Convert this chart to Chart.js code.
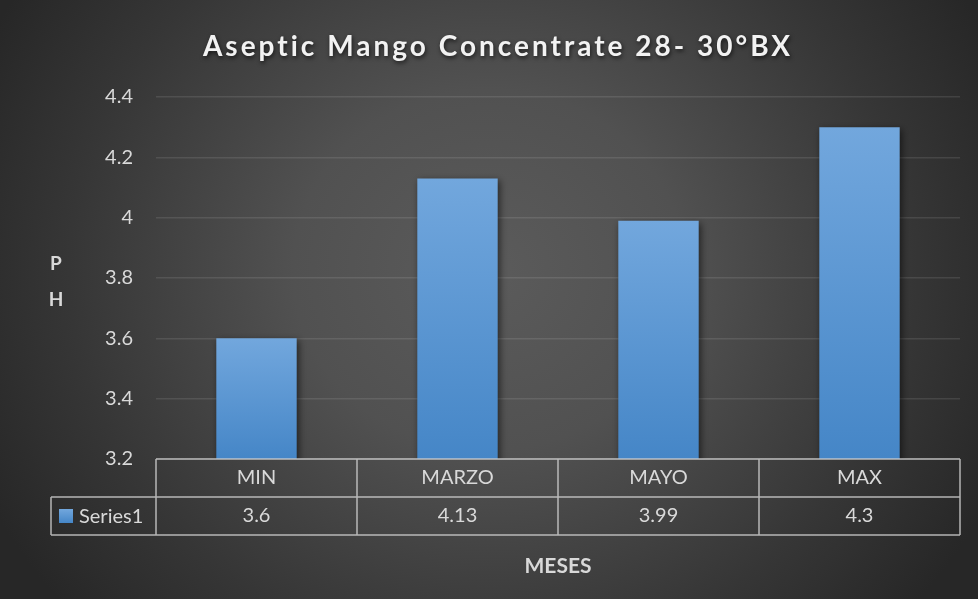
<!DOCTYPE html>
<html>
<head>
<meta charset="utf-8">
<title>Aseptic Mango Concentrate 28- 30°BX</title>
<script src="https://cdn.jsdelivr.net/npm/chart.js@4.4.1/dist/chart.umd.min.js"></script>
<style>
  html, body { margin: 0; padding: 0; background: #272727; }
  canvas { display: block; }
</style>
</head>
<body>
<canvas id="chart" width="978" height="599"></canvas>
<script>
// ---- data ----
const categories = ['MIN', 'MARZO', 'MAYO', 'MAX'];
const phValues = [3.6, 4.13, 3.99, 4.3];
const yTicks = [3.2, 3.4, 3.6, 3.8, 4.0, 4.2, 4.4];
const seriesName = 'Series1';
const chartTitle = 'Aseptic Mango Concentrate 28- 30°BX';
const yTitleLetters = ['P', 'H'];
const xTitle = 'MESES';

// ---- styling ----
const FONT = 'Lato, "Open Sans", sans-serif';
const TEXT = '#d9d9d9';
const TABLE_LINE = 'rgba(205,205,205,0.85)';
const ROW_H = 38;
const LEGEND_LEFT = 51;

// dark radial backdrop, lighter toward the middle
const backdrop = {
  id: 'backdrop',
  beforeDraw(chart) {
    const { ctx, width, height } = chart;
    const cx = 489, cy = 270, sy = 0.92;
    ctx.save();
    ctx.translate(cx, cy);
    ctx.scale(1, sy);
    const g = ctx.createRadialGradient(0, 0, 0, 0, 0, 560);
    g.addColorStop(0, '#5b5b5b');
    g.addColorStop(0.35, '#515151');
    g.addColorStop(0.75, '#363636');
    g.addColorStop(1, '#272727');
    ctx.fillStyle = g;
    ctx.fillRect(-cx, -cy / sy, width, height / sy);
    ctx.restore();
  }
};

// letter-spaced title with a soft drop shadow
const titleStyle = {
  id: 'titleStyle',
  beforeDraw(chart) {
    const tb = chart.titleBlock;
    if (!tb || tb._styled) return;
    const orig = tb.draw.bind(tb);
    tb.draw = function () {
      const c = chart.ctx;
      c.save();
      c.letterSpacing = '3px';
      c.shadowColor = 'rgba(0,0,0,0.65)';
      c.shadowBlur = 4;
      c.shadowOffsetX = 1;
      c.shadowOffsetY = 2;
      c.translate(18, 0);
      orig();
      c.restore();
    };
    tb._styled = true;
  }
};

// shadow behind the columns
const barShadow = {
  id: 'barShadow',
  beforeDatasetsDraw(chart) {
    const c = chart.ctx;
    c.save();
    c.shadowColor = 'rgba(0,0,0,0.55)';
    c.shadowBlur = 7;
    c.shadowOffsetX = 2;
    c.shadowOffsetY = 2;
  },
  afterDatasetsDraw(chart) {
    chart.ctx.restore();
  }
};

// data table frame, legend key and the stacked axis title
const dataTable = {
  id: 'dataTable',
  afterDraw(chart) {
    const { ctx, chartArea } = chart;
    const x = chart.scales.x;
    const top = chartArea.bottom;
    const half = (x.getPixelForValue(1) - x.getPixelForValue(0)) / 2;
    const edges = categories.map((_, i) => x.getPixelForValue(i) - half);
    edges.push(x.getPixelForValue(categories.length - 1) + half);
    const right = edges[edges.length - 1];
    const mid = top + ROW_H;
    const bottom = top + ROW_H * 2;

    ctx.save();
    ctx.strokeStyle = TABLE_LINE;
    ctx.lineWidth = 1.5;
    ctx.beginPath();
    ctx.moveTo(edges[0], top); ctx.lineTo(right, top);
    ctx.moveTo(LEGEND_LEFT, mid); ctx.lineTo(right, mid);
    ctx.moveTo(LEGEND_LEFT, bottom); ctx.lineTo(right, bottom);
    edges.forEach(e => { ctx.moveTo(e, top); ctx.lineTo(e, bottom); });
    ctx.moveTo(LEGEND_LEFT, mid); ctx.lineTo(LEGEND_LEFT, bottom);
    ctx.stroke();

    // legend key
    const rowMid = mid + ROW_H / 2;
    const g = ctx.createLinearGradient(0, rowMid - 7, 0, rowMid + 7);
    g.addColorStop(0, '#72a7dd');
    g.addColorStop(1, '#4586c7');
    ctx.fillStyle = g;
    ctx.fillRect(LEGEND_LEFT + 8, rowMid - 7, 14, 14);
    ctx.fillStyle = TEXT;
    ctx.font = '20px ' + FONT;
    ctx.textAlign = 'left';
    ctx.textBaseline = 'middle';
    ctx.fillText(seriesName, LEGEND_LEFT + 28, rowMid + 1);

    // vertical axis title, one upright letter per line
    const yMid = (chartArea.top + chartArea.bottom) / 2 + 4;
    ctx.font = 'bold 19px ' + FONT;
    ctx.textAlign = 'center';
    yTitleLetters.forEach((ch, i) => {
      ctx.fillText(ch, 56, yMid + (i - (yTitleLetters.length - 1) / 2) * 36);
    });
    ctx.restore();
  }
};

function barGradient(context) {
  const chart = context.chart;
  const y = chart.scales.y;
  if (!chart.chartArea || !y || context.type !== 'data') return '#5b9bd5';
  const top = y.getPixelForValue(context.raw);
  const base = y.getPixelForValue(y.min);
  const g = chart.ctx.createLinearGradient(0, top, 0, base);
  g.addColorStop(0, '#72a7dd');
  g.addColorStop(1, '#4586c7');
  return g;
}

new Chart(document.getElementById('chart'), {
  type: 'bar',
  data: {
    labels: categories,
    datasets: [{
      label: seriesName,
      data: phValues,
      backgroundColor: barGradient,
      borderWidth: 0,
      barPercentage: 0.4,
      categoryPercentage: 1.0
    }]
  },
  plugins: [backdrop, titleStyle, barShadow, dataTable],
  options: {
    responsive: false,
    animation: false,
    devicePixelRatio: 1,
    layout: { padding: { left: 0, right: 18, top: 0, bottom: 0 } },
    plugins: {
      legend: { display: false },
      tooltip: { enabled: false },
      title: {
        display: true,
        text: chartTitle,
        color: '#f2f2f2',
        font: { family: FONT, size: 28, weight: 'bold', lineHeight: 1.2 },
        padding: { top: 30, bottom: 33.4 }
      }
    },
    scales: {
      x: {
        grid: { display: false, drawTicks: false },
        border: { display: false },
        ticks: {
          color: TEXT,
          font: { family: FONT, size: 20, lineHeight: ROW_H / 20 },
          padding: 0,
          maxRotation: 0,
          autoSkip: false,
          callback: (v, i) => [categories[i], String(phValues[i])]
        },
        title: {
          display: true,
          text: xTitle,
          color: TEXT,
          font: { family: FONT, size: 21, weight: 'bold', lineHeight: 1.2 },
          padding: { top: 18, bottom: 20 }
        },
        afterFit(scale) { scale.height = 140; }
      },
      y: {
        min: yTicks[0],
        max: yTicks[yTicks.length - 1],
        afterBuildTicks(scale) { scale.ticks = yTicks.map(v => ({ value: v })); },
        grid: {
          color: 'rgba(255,255,255,0.10)',
          lineWidth: 1.5,
          drawTicks: false
        },
        border: { display: false },
        ticks: {
          color: TEXT,
          font: { family: FONT, size: 20 },
          padding: 23,
          callback: v => String(Math.round(v * 10) / 10)
        },
        afterFit(scale) { scale.width = 156; }
      }
    }
  }
});
</script>
</body>
</html>
